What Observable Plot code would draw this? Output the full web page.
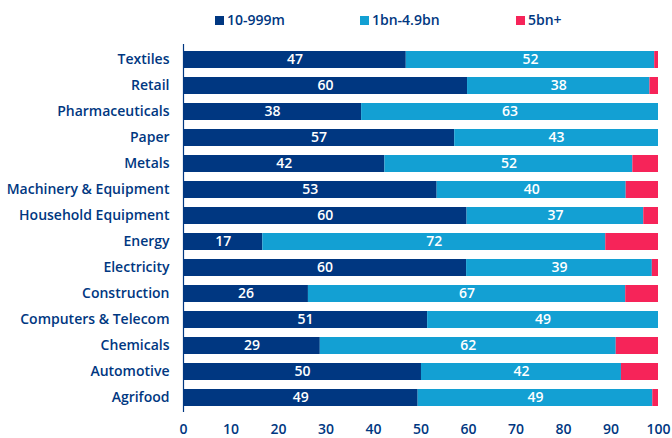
<!DOCTYPE html>
<html>
<head>
<meta charset="utf-8">
<script src="https://cdn.jsdelivr.net/npm/d3@7"></script>
<script src="https://cdn.jsdelivr.net/npm/@observablehq/plot@0.6"></script>
<style>
  html, body { margin: 0; padding: 0; background: #fff; }
  body { width: 672px; height: 438px; overflow: hidden; font-family: "Open Sans", sans-serif; }
  #legend { position: relative; height: 24px; color: #003781; font-size: 14px; font-weight: 600; }
  .item { position: absolute; top: 10px; display: flex; align-items: center; line-height: 20px; }
  .sw { width: 9px; height: 9px; margin-right: 3px; }
  #chart svg { display: block; }
</style>
</head>
<body>
<div id="legend"></div>
<div id="chart"></div>
<script>
const categories = ["Textiles", "Retail", "Pharmaceuticals", "Paper", "Metals", "Machinery & Equipment", "Household Equipment", "Energy", "Electricity", "Construction", "Computers & Telecom", "Chemicals", "Automotive", "Agrifood"];
const bands = ["10-999m", "1bn-4.9bn", "5bn+"];
const colors = ["#003781", "#13A0D3", "#F62459"];
const small = [46.9, 59.8, 37.5, 57.1, 42.4, 53.4, 59.7, 16.7, 59.6, 26.3, 51.4, 28.8, 50.1, 49.4];
const mid   = [52.3, 38.4, 62.5, 42.9, 52.2, 39.8, 37.2, 72.2, 39.1, 66.8, 48.6, 62.3, 42.1, 49.4];
const large = [0.8, 1.8, 0, 0, 5.4, 6.8, 3.1, 11.1, 1.3, 6.9, 0, 8.9, 7.8, 1.2];
const xTicks = [0, 10, 20, 30, 40, 50, 60, 70, 80, 90, 100];
const legendLeft = [215, 360, 516];

const series = [small, mid, large];
const rows = categories.flatMap((c, i) => bands.map((b, j) => ({cat: c, band: b, v: series[j][i]})));

const legend = document.getElementById("legend");
bands.forEach((b, j) => {
  const it = document.createElement("div");
  it.className = "item";
  it.style.left = legendLeft[j] + "px";
  it.innerHTML = `<span class="sw" style="background:${colors[j]}"></span><span>${b}</span>`;
  legend.appendChild(it);
});

const chart = Plot.plot({
  width: 672,
  height: 414,
  marginLeft: 183,
  marginRight: 14,
  marginTop: 16,
  marginBottom: 21,
  style: {fontFamily: "'Open Sans', sans-serif", fontSize: "14px", color: "#003781", fontWeight: 600},
  x: {domain: [0, 100], ticks: xTicks, tickSize: 0, tickPadding: 7, label: null},
  y: {domain: categories, padding: 0.34, tickSize: 0, tickPadding: 14, label: null},
  color: {domain: bands, range: colors},
  marks: [
    Plot.barX(rows, Plot.stackX({x: "v", y: "cat", fill: "band", z: "band", order: bands})),
    Plot.textX(rows, Plot.stackX({x: "v", y: "cat", z: "band", order: bands,
      text: d => d.band === "5bn+" ? "" : String(Math.round(d.v)),
      fill: "white", fontSize: 14, fontWeight: 600})),
    Plot.ruleX([0], {stroke: "#003781", strokeWidth: 1.2, insetTop: 4, insetBottom: 5})
  ]
});
document.getElementById("chart").appendChild(chart);
</script>
</body>
</html>
